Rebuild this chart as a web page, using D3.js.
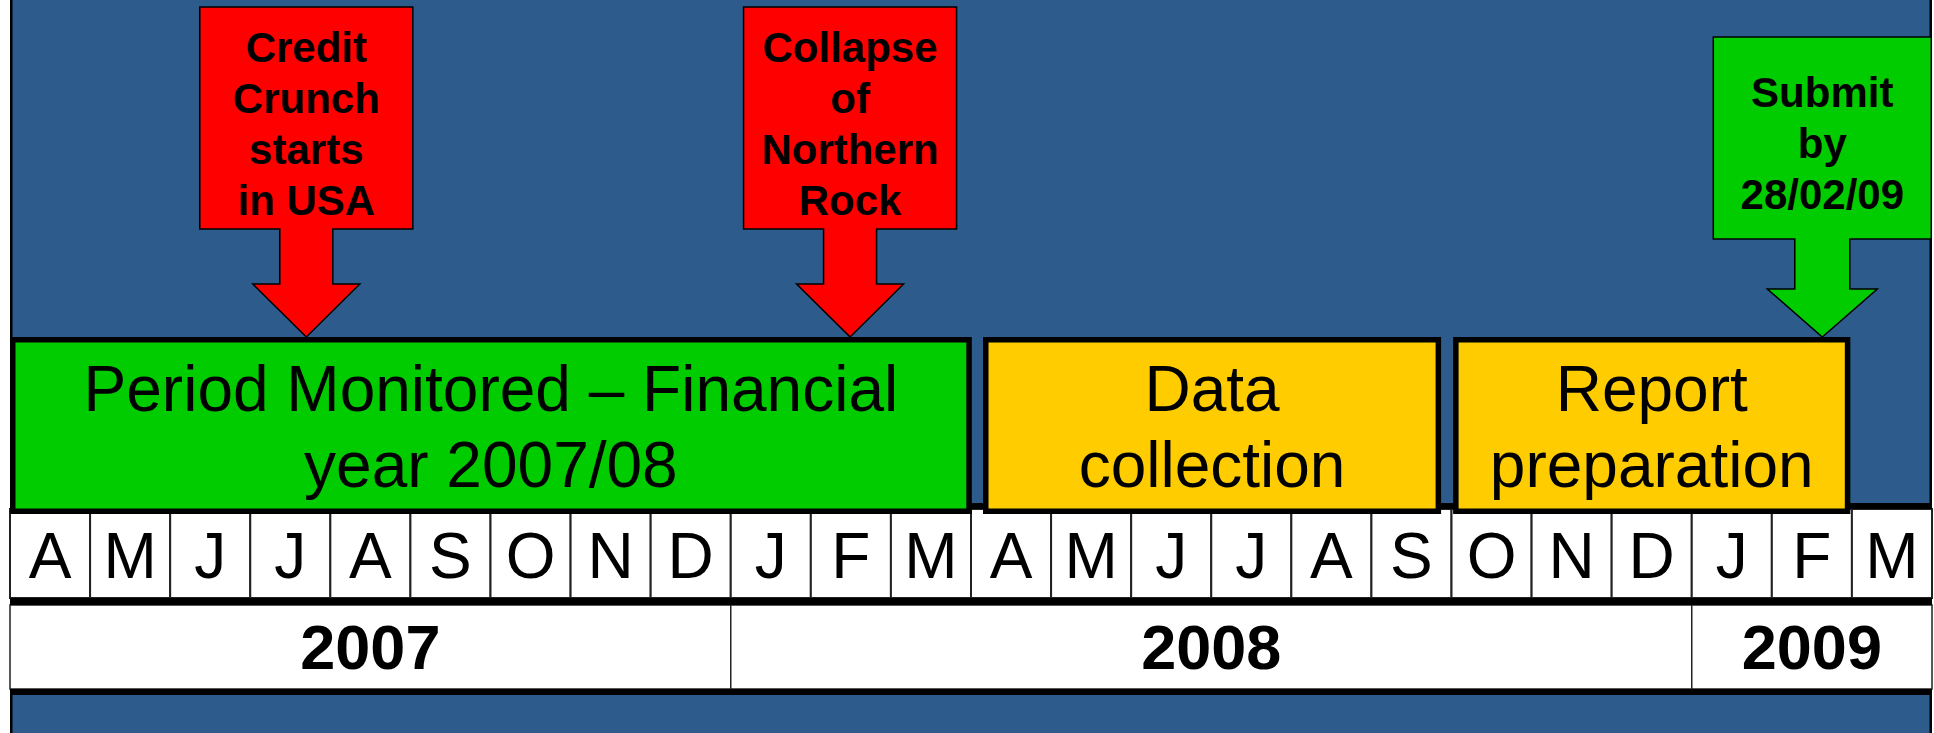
<!DOCTYPE html>
<html>
<head>
<meta charset="utf-8">
<script src="https://cdn.jsdelivr.net/npm/d3@7"></script>
<style>
html, body { margin: 0; padding: 0; background: #fff; }
svg { display: block; font-family: "Liberation Sans", Arial, sans-serif; }
</style>
</head>
<body>
<div id="chart"></div>
<script>
// month strip, April 2007 -> March 2009
var months = ["A","M","J","J","A","S","O","N","D","J","F","M","A","M","J","J","A","S","O","N","D","J","F","M"];

// calendar years (start / end as month index)
var years = ["2007", "2008", "2009"];
var yearStart = [0, 9, 21];
var yearEnd = [9, 21, 24];

// project phases
var periodLabels = [["Period Monitored \u2013 Financial", "year 2007/08"], ["Data", "collection"], ["Report", "preparation"]];
var periodStart = [0, 12.15, 18.02];
var periodEnd = [12.01, 17.87, 22.98];
var periodKind = ["done", "todo", "todo"];

// events pointed at by arrows
var eventLabels = [["Credit", "Crunch", "starts", "in USA"], ["Collapse", "of", "Northern", "Rock"], ["Submit", "by", "28/02/09"]];
var eventAt = [3.7, 10.49, 22.63];
var eventKind = ["news", "news", "deadline"];

var W = 1934, H = 733;
var COLORS = { bg: "#2C5B8C", done: "#00CC00", todo: "#FFCC00", news: "#FF0000", deadline: "#00CC00" };
// callout shapes (box + arrow), per kind
var CALLOUT = {
	news:     { top: 7,  boxBottom: 229, headTop: 284, boxW: 213, shaftW: 53, headW: 107 },
	deadline: { top: 37, boxBottom: 239, headTop: 289, boxW: 218, shaftW: 55, headW: 110 }
};
var barTop = 337, barBottom = 514;
var monthTop = 509, monthBottom = 598, yearTop = 605, yearBottom = 689;

var svg = d3.select("#chart").append("svg")
	.attr("width", W)
	.attr("height", H);

var x = d3.scaleLinear()
	.domain([0, months.length])
	.range([10, 1932]);

// blue panel
svg.append("rect")
	.attr("x", 11.25).attr("y", -5)
	.attr("width", 1919.5).attr("height", H + 10)
	.attr("fill", COLORS.bg)
	.attr("stroke", "#000")
	.attr("stroke-width", 2.5);

// month cells
var mcell = svg.append("g").selectAll("g")
	.data(months)
	.enter().append("g");

mcell.append("rect")
	.attr("x", function(d, i) { return x(i); })
	.attr("y", monthTop)
	.attr("width", function(d, i) { return x(i + 1) - x(i); })
	.attr("height", monthBottom - monthTop)
	.attr("fill", "#fff")
	.attr("stroke", "#222")
	.attr("stroke-width", 2);

mcell.append("text")
	.attr("x", function(d, i) { return (x(i) + x(i + 1)) / 2; })
	.attr("y", 578)
	.attr("text-anchor", "middle")
	.attr("font-size", 64)
	.text(function(d) { return d; });

// year cells
var ycell = svg.append("g").selectAll("g")
	.data(years)
	.enter().append("g");

ycell.append("rect")
	.attr("x", function(d, i) { return x(yearStart[i]); })
	.attr("y", yearTop)
	.attr("width", function(d, i) { return x(yearEnd[i]) - x(yearStart[i]); })
	.attr("height", yearBottom - yearTop)
	.attr("fill", "#fff")
	.attr("stroke", "#222")
	.attr("stroke-width", 1.5);

ycell.append("text")
	.attr("x", function(d, i) { return (x(yearStart[i]) + x(yearEnd[i])) / 2; })
	.attr("y", 669)
	.attr("text-anchor", "middle")
	.attr("font-size", 63)
	.attr("font-weight", "bold")
	.text(function(d) { return d; });

// thick rules of the table
svg.append("g").selectAll("line")
	.data([[506, 6], [601.5, 7], [692, 6]])
	.enter().append("line")
	.attr("x1", x(0)).attr("x2", x(months.length))
	.attr("y1", function(d) { return d[0]; })
	.attr("y2", function(d) { return d[0]; })
	.attr("stroke", "#000")
	.attr("stroke-width", function(d) { return d[1]; });

// phase bars
var sw = 5.5;
var bar = svg.append("g").selectAll("g")
	.data(periodLabels)
	.enter().append("g");

bar.append("rect")
	.attr("x", function(d, i) { return x(periodStart[i]) + sw / 2; })
	.attr("y", barTop + sw / 2)
	.attr("width", function(d, i) { return x(periodEnd[i]) - x(periodStart[i]) - sw; })
	.attr("height", barBottom - barTop - sw)
	.attr("fill", function(d, i) { return COLORS[periodKind[i]]; })
	.attr("stroke", "#000")
	.attr("stroke-width", sw);

bar.each(function(lines, i) {
	var cx = (x(periodStart[i]) + x(periodEnd[i])) / 2;
	var cy = (barTop + barBottom) / 2;
	var lh = 76;
	d3.select(this).selectAll("text")
		.data(lines)
		.enter().append("text")
		.attr("x", cx)
		.attr("y", function(d, j) { return cy - (lines.length - 1) / 2 * lh + j * lh + 23.5; })
		.attr("text-anchor", "middle")
		.attr("font-size", 64)
		.text(function(d) { return d; });
});

// callout arrows
var ev = svg.append("g").selectAll("g")
	.data(eventLabels)
	.enter().append("g");

ev.append("path")
	.attr("d", function(d, i) {
		var c = CALLOUT[eventKind[i]];
		var cx = x(eventAt[i]);
		var pts = [
			[cx - c.boxW / 2, c.top], [cx + c.boxW / 2, c.top], [cx + c.boxW / 2, c.boxBottom],
			[cx + c.shaftW / 2, c.boxBottom], [cx + c.shaftW / 2, c.headTop], [cx + c.headW / 2, c.headTop],
			[cx, barTop],
			[cx - c.headW / 2, c.headTop], [cx - c.shaftW / 2, c.headTop], [cx - c.shaftW / 2, c.boxBottom],
			[cx - c.boxW / 2, c.boxBottom]
		];
		return d3.line()(pts) + "Z";
	})
	.attr("fill", function(d, i) { return COLORS[eventKind[i]]; })
	.attr("stroke", "#000")
	.attr("stroke-width", 1.5)
	.attr("stroke-linejoin", "miter");

ev.each(function(lines, i) {
	var c = CALLOUT[eventKind[i]];
	var cx = x(eventAt[i]);
	var cy = (c.top + c.boxBottom) / 2;
	var lh = 51;
	d3.select(this).selectAll("text")
		.data(lines)
		.enter().append("text")
		.attr("x", cx)
		.attr("y", function(d, j) { return cy - (lines.length - 1) / 2 * lh + j * lh + 20; })
		.attr("text-anchor", "middle")
		.attr("font-size", 42)
		.attr("font-weight", "bold")
		.text(function(d) { return d; });
});
</script>
</body>
</html>
